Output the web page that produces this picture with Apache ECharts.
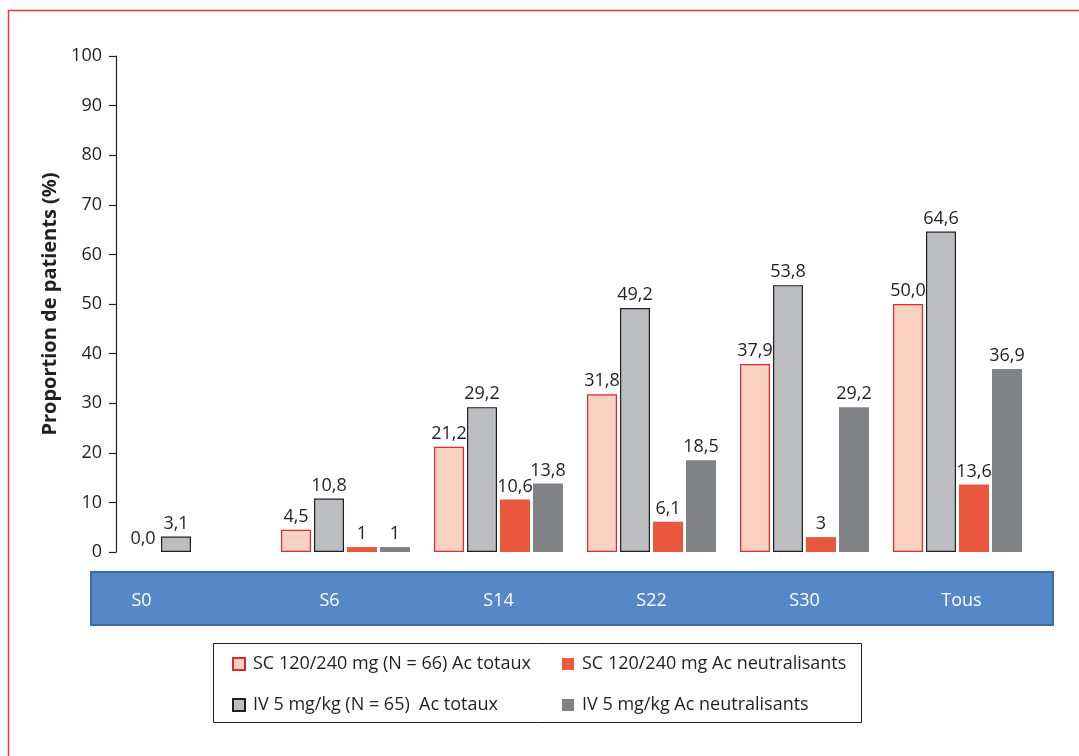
<!DOCTYPE html>
<html>
<head>
<meta charset="utf-8">
<script src="https://cdn.jsdelivr.net/npm/echarts@6/dist/echarts.min.js"></script>
<style>
  html, body { margin: 0; padding: 0; background: #fff; }
  #chart { width: 1079px; height: 756px; }
</style>
</head>
<body>
<div id="chart"></div>
<script>
const categories = ["S0", "S6", "S14", "S22", "S30", "Tous"];
const yTicks = [0, 10, 20, 30, 40, 50, 60, 70, 80, 90, 100];

const scTotaux = [0.0, 4.5, 21.2, 31.8, 37.9, 50.0];
const ivTotaux = [3.1, 10.8, 29.2, 49.2, 53.8, 64.6];
const scNeutral = [null, 1, 10.6, 6.1, 3, 13.6];
const ivNeutral = [null, 1, 13.8, 18.5, 29.2, 36.9];

const names = [
  "SC 120/240 mg (N = 66) Ac totaux",
  "SC 120/240 mg Ac neutralisants",
  "IV 5 mg/kg (N = 65)  Ac totaux",
  "IV 5 mg/kg Ac neutralisants",
];

const FONT = "'Open Sans', 'Noto Sans', sans-serif";
const INK = "#231f20";
const chart = echarts.init(document.getElementById("chart"), null, { renderer: "canvas" });

// totaux: always one decimal, neutralisants: as is
const fmtFixed = (p) => (p.value == null ? "" : p.value.toFixed(1).replace(".", ","));
const fmtRaw = (p) => (p.value == null ? "" : String(p.value).replace(".", ","));

const labelStyle = (fmt) => ({
  show: true,
  position: "top",
  distance: 4,
  fontFamily: FONT,
  fontSize: 18,
  color: INK,
  formatter: fmt,
});

// a zero bar draws nothing in the original, not even its outline
const noZeroOutline = (arr) =>
  arr.map((v) => (v === 0 ? { value: v, itemStyle: { borderWidth: 0, color: "transparent" } } : v));

// nudges for band labels (band cells are not centred on the bar groups)
const bandBase = { color: "#fff", fontSize: 18, fontFamily: FONT };
const bandRich = {
  l49: Object.assign({ padding: [0, 102, 0, 0] }, bandBase),
  l16: Object.assign({ padding: [0, 32, 0, 0] }, bandBase),
  n: bandBase,
  r4: Object.assign({ padding: [0, 0, 0, 8] }, bandBase),
};
const bandKey = { S0: "l49", S6: "l16", Tous: "r4" };

const legendCol = (data, left) => ({
  data: data,
  orient: "vertical",
  left: left,
  top: 649,
  icon: "rect",
  itemWidth: 12,
  itemHeight: 12,
  itemGap: 21,
  textStyle: { fontFamily: FONT, fontSize: 18, color: INK, lineHeight: 20, padding: [0, 0, 0, 3] },
});

const option = {
  backgroundColor: "#fff",
  animation: false,
  textStyle: { fontFamily: FONT },
  graphic: [
    {
      type: "rect",
      z: -10,
      shape: { x: 8.5, y: 10.5, width: 1100, height: 800 },
      style: { fill: "none", stroke: "#e8343c", lineWidth: 1.5 },
    },
    {
      type: "rect",
      z: -5,
      shape: { x: 91, y: 572, width: 962, height: 53 },
      style: { fill: "#5687c7", stroke: "#3d6aa7", lineWidth: 2 },
    },
    {
      type: "rect",
      z: -5,
      shape: { x: 213.5, y: 643.5, width: 648, height: 79 },
      style: { fill: "#fff", stroke: INK, lineWidth: 1 },
    },
  ],
  grid: { left: 116, right: 45, top: 56, bottom: 204 },
  legend: [legendCol([names[0], names[2]], 227), legendCol([names[1], names[3]], 557)],
  xAxis: {
    type: "category",
    data: categories,
    axisLine: { show: false },
    axisTick: { show: false },
    axisLabel: {
      margin: 40,
      interval: 0,
      formatter: (v) => `{${bandKey[v] || "n"}|${v}}`,
      rich: bandRich,
    },
  },
  yAxis: {
    type: "value",
    min: yTicks[0],
    max: yTicks[yTicks.length - 1],
    interval: yTicks[1] - yTicks[0],
    name: "Proportion de patients (%)",
    nameLocation: "middle",
    nameGap: 51,
    nameTextStyle: { fontFamily: FONT, fontSize: 20, fontWeight: "bold", color: INK },
    splitLine: { show: false },
    axisLine: { show: true, lineStyle: { color: INK, width: 1.2 } },
    axisTick: { show: true, inside: false, length: 7, lineStyle: { color: INK, width: 1.2 } },
    axisLabel: { fontFamily: FONT, fontSize: 18, color: INK, margin: 14 },
  },
  series: [
    {
      name: names[0],
      type: "bar",
      data: noZeroOutline(scTotaux),
      barWidth: 30,
      barGap: "10%",
      itemStyle: { color: "#f9d1c1", borderColor: "#e4262e", borderWidth: 1.2 },
      label: labelStyle(fmtFixed),
    },
    {
      name: names[2],
      type: "bar",
      data: ivTotaux,
      barWidth: 30,
      barGap: "10%",
      itemStyle: { color: "#bcbdc1", borderColor: INK, borderWidth: 1.2 },
      label: labelStyle(fmtFixed),
    },
    {
      name: names[1],
      type: "bar",
      data: scNeutral,
      barWidth: 30,
      barGap: "10%",
      itemStyle: { color: "#e9573e" },
      label: labelStyle(fmtRaw),
    },
    {
      name: names[3],
      type: "bar",
      data: ivNeutral,
      barWidth: 30,
      barGap: "10%",
      itemStyle: { color: "#818286" },
      label: labelStyle(fmtRaw),
    },
  ],
};

chart.setOption(option);
</script>
</body>
</html>
